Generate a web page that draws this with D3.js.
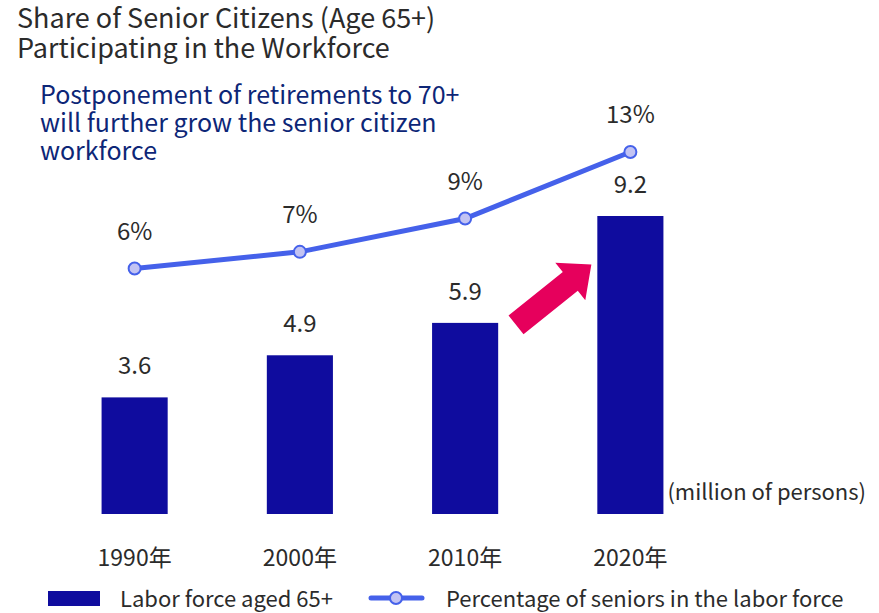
<!DOCTYPE html>
<html>
<head>
<meta charset="utf-8">
<script src="https://cdn.jsdelivr.net/npm/d3@7"></script>
<style>
  html, body { margin: 0; padding: 0; background: #fff; }
  svg { display: block; font-family: "Noto Sans CJK JP", "Noto Sans", sans-serif; }
</style>
</head>
<body>
<svg id="chart" width="879" height="613"></svg>
<script>
// Labor force aged 65+ (million persons) and their share of the labor force (%)
const years = ["1990年", "2000年", "2010年", "2020年"];
const laborForce = [3.6, 4.9, 5.9, 9.2];
const seniorShare = [6, 7, 9, 13];

const titleLines = ["Share of Senior Citizens (Age 65+)", "Participating in the Workforce"];
const noteLines = ["Postponement of retirements to 70+", "will further grow the senior citizen", "workforce"];
const unitLabel = "(million of persons)";
const legendLabels = ["Labor force aged 65+", "Percentage of seniors in the labor force"];

const colors = {
  bar: "#0f0c9e",
  line: "#4561ea",
  dot: "#c2c3f3",
  text: "#2b2b2b",
  note: "#0d2677",
  arrow: "#e6005c"
};

const svg = d3.select("#chart");

// Scales
const x = d3.scaleBand().domain(years).range([52, 713]).paddingInner(0.6).paddingOuter(0.3);
const yBar = d3.scaleLinear().domain([0, 9.2]).range([514, 216]);
const yLine = d3.scaleLinear().domain([6, 13]).range([268.5, 152]);
const cx = d => x(d) + x.bandwidth() / 2;

// Title
svg.append("text")
  .attr("x", 17).attr("y", 28)
  .attr("fill", colors.text).attr("font-size", 27)
  .selectAll("tspan").data(titleLines).join("tspan")
  .attr("x", 17).attr("dy", (d, i) => i ? 30 : 0)
  .text(d => d);

// Annotation note
svg.append("text")
  .attr("x", 40).attr("y", 104)
  .attr("fill", colors.note).attr("font-size", 25)
  .selectAll("tspan").data(noteLines).join("tspan")
  .attr("x", 40).attr("dy", (d, i) => i ? 28 : 0)
  .text(d => d);

// Bars
svg.append("g").selectAll("rect").data(years).join("rect")
  .attr("x", d => x(d))
  .attr("y", (d, i) => yBar(laborForce[i]))
  .attr("width", x.bandwidth())
  .attr("height", (d, i) => yBar(0) - yBar(laborForce[i]))
  .attr("fill", colors.bar);

// Bar value labels
svg.append("g").selectAll("text").data(years).join("text")
  .attr("x", cx)
  .attr("y", (d, i) => yBar(laborForce[i]) - 23)
  .attr("text-anchor", "middle")
  .attr("font-size", 24)
  .attr("fill", colors.text)
  .text((d, i) => d3.format(".1f")(laborForce[i]));

// Growth arrow between the last two bars
const b2010 = x(years[2]) + x.bandwidth();
const b2020 = x(years[3]);
const gap = b2020 - b2010;
const arrowTail = [b2010 + gap * 0.18, yBar(5.9) + 2];
const arrowTip = [b2020 - gap * 0.06, yBar(7.7)];
{
  const dx = arrowTip[0] - arrowTail[0], dy = arrowTip[1] - arrowTail[1];
  const len = Math.hypot(dx, dy);
  const ux = dx / len, uy = dy / len, nx = -uy, ny = ux;
  const shaftHalf = 12, headHalf = 24, headLen = 27;
  const hb = [arrowTip[0] - ux * headLen, arrowTip[1] - uy * headLen];
  const pts = [
    [arrowTail[0] + nx * shaftHalf, arrowTail[1] + ny * shaftHalf],
    [hb[0] + nx * shaftHalf, hb[1] + ny * shaftHalf],
    [hb[0] + nx * headHalf, hb[1] + ny * headHalf],
    arrowTip,
    [hb[0] - nx * headHalf, hb[1] - ny * headHalf],
    [hb[0] - nx * shaftHalf, hb[1] - ny * shaftHalf],
    [arrowTail[0] - nx * shaftHalf, arrowTail[1] - ny * shaftHalf]
  ];
  svg.append("path")
    .attr("d", d3.line()(pts) + "Z")
    .attr("fill", colors.arrow);
}

// Share line
const line = d3.line().x((d, i) => cx(years[i])).y(d => yLine(d));
svg.append("path")
  .datum(seniorShare)
  .attr("d", line)
  .attr("fill", "none")
  .attr("stroke", colors.line)
  .attr("stroke-width", 5)
  .attr("stroke-linecap", "round");

svg.append("g").selectAll("circle").data(seniorShare).join("circle")
  .attr("cx", (d, i) => cx(years[i]))
  .attr("cy", d => yLine(d))
  .attr("r", 6)
  .attr("fill", colors.dot)
  .attr("stroke", colors.line)
  .attr("stroke-width", 2);

svg.append("g").selectAll("text").data(seniorShare).join("text")
  .attr("x", (d, i) => cx(years[i]))
  .attr("y", d => yLine(d) - 29)
  .attr("text-anchor", "middle")
  .attr("font-size", 24)
  .attr("fill", colors.text)
  .text(d => d + "%");

// Unit label
svg.append("text")
  .attr("x", x(years[3]) + x.bandwidth() + 4)
  .attr("y", 500)
  .attr("font-size", 22)
  .attr("fill", colors.text)
  .text(unitLabel);

// Category axis (labels only)
const axis = svg.append("g")
  .attr("transform", "translate(0,540)")
  .call(d3.axisBottom(x).tickSize(0).tickPadding(0));
axis.select(".domain").remove();
axis.selectAll("text")
  .attr("font-family", "\"Noto Sans CJK JP\", sans-serif")
  .attr("font-size", 23)
  .attr("fill", colors.text)
  .attr("dy", "0")
  .attr("y", 26);

// Legend
const legend = svg.append("g").attr("transform", "translate(0,598)");
legend.append("rect")
  .attr("x", 48).attr("y", -7).attr("width", 52).attr("height", 15)
  .attr("fill", colors.bar);
legend.append("text")
  .attr("x", 120).attr("y", 9)
  .attr("font-size", 22).attr("fill", colors.text)
  .text(legendLabels[0]);
legend.append("line")
  .attr("x1", 371).attr("x2", 422).attr("y1", 0).attr("y2", 0)
  .attr("stroke", colors.line).attr("stroke-width", 5)
  .attr("stroke-linecap", "round");
legend.append("circle")
  .attr("cx", 396).attr("cy", 0).attr("r", 6)
  .attr("fill", colors.dot).attr("stroke", colors.line).attr("stroke-width", 2);
legend.append("text")
  .attr("x", 446).attr("y", 9)
  .attr("font-size", 22).attr("fill", colors.text)
  .text(legendLabels[1]);
</script>
</body>
</html>
